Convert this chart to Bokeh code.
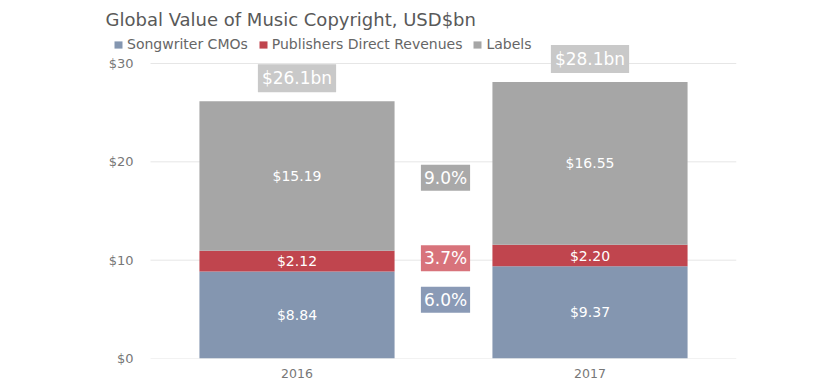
from bokeh.plotting import figure
from bokeh.models import ColumnDataSource, Range1d, Legend, LegendItem
from bokeh.core.properties import value
from bokeh.embed import file_html
from bokeh.resources import INLINE

years = ["2016", "2017"]
songwriter_cmos = [8.84, 9.37]
publishers_direct = [2.12, 2.20]
labels_rev = [15.19, 16.55]
total_labels = ["$26.1bn", "$28.1bn"]
growth_labels = ["9.0%", "3.7%", "6.0%"]
y_ticks = [0, 10, 20, 30]
y_tick_labels = {0: "$0", 10: "$10", 20: "$20", 30: "$30"}

series_names = ["Songwriter CMOs", "Publishers Direct Revenues", "Labels"]
colors = ["#8496b0", "#c0454e", "#a6a6a6"]
box_colors = ["#a9a9a9", "#d8737b", "#8a9ab6"]
FONT = "DejaVu Sans"

xs = list(range(len(years)))
x_lo = -0.5            # left edge of the category band
x_hi = len(years) - 0.5  # right edge of the category band

p = figure(x_range=Range1d(x_lo - 40 / 293.0, x_hi), y_range=Range1d(0, 33.05),
           width=836, height=387, output_backend="svg", toolbar_location=None,
           min_border_left=110, min_border_right=100, min_border_top=33, min_border_bottom=29)

# horizontal grid lines across the category band
p.segment(x0=[x_lo] * len(y_ticks), x1=[x_hi] * len(y_ticks), y0=y_ticks, y1=y_ticks,
          line_color="#e6e6e6", line_width=1)

stack = ColumnDataSource(dict(x=xs, a=songwriter_cmos, b=publishers_direct, c=labels_rev))
r = p.vbar_stack(["a", "b", "c"], x="x", width=0.666, color=colors, line_color=None, source=stack)

# segment value labels
seg_x, seg_y, seg_t = [], [], []
for i in xs:
    base = 0.0
    for vals in (songwriter_cmos, publishers_direct, labels_rev):
        v = vals[i]
        seg_x.append(i)
        seg_y.append(base + v / 2)
        seg_t.append("$%.2f" % v)
        base += v
p.text(x=seg_x, y=seg_y, text=seg_t, text_color="white", text_font=value(FONT),
       text_font_size="14px", text_align="center", text_baseline="middle")

# totals
totals = [a + b + c for a, b, c in zip(songwriter_cmos, publishers_direct, labels_rev)]
p.text(x=xs, y=totals, text=total_labels, text_color="white", text_font=value(FONT),
       text_font_size="17px", text_align="center", text_baseline="bottom", y_offset=-9,
       background_fill_color="#c9c9c9", padding=4)

# growth labels between bars
mid = []
for vals_prev, vals_base in ((labels_rev, [a + b for a, b in zip(songwriter_cmos, publishers_direct)]),
                             (publishers_direct, songwriter_cmos),
                             (songwriter_cmos, [0, 0])):
    mid.append(sum(vb + vp / 2 for vp, vb in zip(vals_prev, vals_base)) / 2)
offsets = [8, 0, -14]
gap_x = (xs[0] + xs[1]) / 2
for t, y, off, bc in zip(growth_labels, mid, offsets, box_colors):
    p.text(x=[gap_x], y=[y], text=[t], text_color="white", text_font=value(FONT),
           text_font_size="17px", text_align="center", text_baseline="middle", y_offset=off,
           x_offset=2, background_fill_color=bc, padding=3)

legend = Legend(items=[LegendItem(label=n, renderers=[rr]) for n, rr in zip(series_names, r)],
                orientation="horizontal", location=(3, 306), padding=0, margin=0, spacing=10,
                glyph_width=10, glyph_height=9, label_standoff=4, label_height=14,
                label_text_font=FONT, label_text_font_size="14px", label_text_color="#666666",
                border_line_color=None, background_fill_alpha=0)
p.add_layout(legend, "center")

p.title.text = "Global Value of Music Copyright, USD$bn"
p.title.text_font = FONT
p.title.text_font_size = "18px"
p.title.text_font_style = "normal"
p.title.text_color = "#595959"
p.title.align = "left"
p.title.offset = -5
p.title.standoff = 7

p.xaxis.ticker = xs
p.xaxis.major_label_overrides = {i: y for i, y in zip(xs, years)}
p.yaxis.ticker = y_ticks
p.yaxis.major_label_overrides = y_tick_labels
p.yaxis.major_tick_out = 0
p.yaxis.major_tick_in = 0
p.yaxis.major_label_standoff = -23
p.xaxis.major_label_standoff = 4
for ax in (p.xaxis, p.yaxis):
    ax.axis_line_color = None
    ax.major_tick_line_color = None
    ax.minor_tick_line_color = None
    ax.major_label_text_font = FONT
    ax.major_label_text_color = "#777777"
p.xaxis.major_label_text_font_size = "12.5px"
p.yaxis.major_label_text_font_size = "13px"
p.xgrid.grid_line_color = None
p.ygrid.grid_line_color = None
p.outline_line_color = None

open("out.html", "w").write(file_html(p, INLINE))
